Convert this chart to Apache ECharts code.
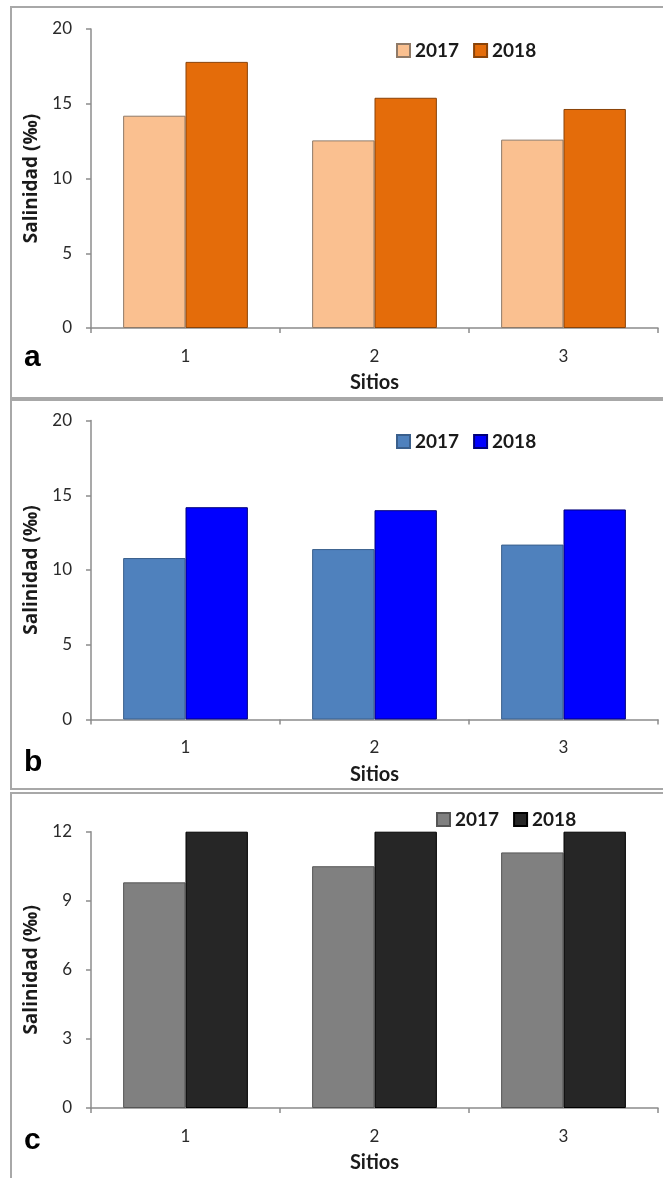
<!DOCTYPE html>
<html>
<head>
<meta charset="utf-8">
<script src="https://cdn.jsdelivr.net/npm/echarts@6/dist/echarts.min.js"></script>
<style>
  html, body { margin: 0; padding: 0; background: #fff; width: 663px; height: 1178px; overflow: hidden; }
  .frame { position: absolute; box-sizing: border-box; border: 2px solid #a8a8a8; background: #fff; }
  .chart { position: absolute; left: 0; width: 663px; }
</style>
</head>
<body>
<div class="frame" style="left:10px; top:6px; width:700px; height:393px;"></div>
<div class="frame" style="left:10px; top:399px; width:700px; height:391px;"></div>
<div class="frame" style="left:10px; top:792px; width:700px; height:420px;"></div>
<div id="ca" class="chart" style="top:0px; height:398px;"></div>
<div id="cb" class="chart" style="top:398px; height:392px;"></div>
<div id="cc" class="chart" style="top:790px; height:388px;"></div>
<script>
// ---- data ----
const sites = ['1', '2', '3'];
const years = ['2017', '2018'];
const panelA2017 = [14.2, 12.55, 12.6];
const panelA2018 = [17.8, 15.4, 14.65];
const panelB2017 = [10.8, 11.4, 11.7];
const panelB2018 = [14.2, 14.0, 14.05];
const panelC2017 = [9.8, 10.5, 11.1];
const panelC2018 = [12.0, 12.0, 12.0];
const yTicksAB = { min: 0, max: 20, interval: 5 };
const yTicksC = { min: 0, max: 12, interval: 3 };
const xName = 'Sitios';
const yName = 'Salinidad (‰)';

const FONT = 'Lato';

function makeOption(cfg) {
  return {
    animation: false,
    textStyle: { fontFamily: FONT },
    legend: {
      data: years,
      left: cfg.legendLeft,
      top: cfg.legendTop,
      itemWidth: 13,
      itemHeight: 13,
      itemGap: 14,
      icon: 'rect',
      selectedMode: false,
      textStyle: { fontFamily: FONT, fontSize: 19, fontWeight: 'bold', color: '#1a1a1a' }
    },
    grid: { left: 91, top: cfg.gridTop, width: 567, height: cfg.gridHeight },
    xAxis: {
      type: 'category',
      data: sites,
      boundaryGap: true,
      name: xName,
      nameLocation: 'middle',
      nameGap: 45,
      nameTextStyle: { fontFamily: FONT, fontSize: 20, fontWeight: 'bold', color: '#1a1a1a' },
      axisLine: { lineStyle: { color: '#8c8c8c', width: 1.5 } },
      axisTick: { show: true, length: 5, lineStyle: { color: '#8c8c8c', width: 1.5 } },
      axisLabel: { margin: 20, fontFamily: FONT, fontSize: 17, color: '#2a2a2a' }
    },
    yAxis: {
      type: 'value',
      min: cfg.ticks.min,
      max: cfg.ticks.max,
      interval: cfg.ticks.interval,
      name: yName,
      nameLocation: 'middle',
      nameGap: 48,
      nameRotate: 90,
      nameTextStyle: { fontFamily: 'Open Sans', fontSize: 19, fontWeight: 'bold', color: '#1a1a1a' },
      splitLine: { show: false },
      axisLine: { show: true, lineStyle: { color: '#8c8c8c', width: 1.5 } },
      axisTick: { show: true, length: 5, lineStyle: { color: '#8c8c8c', width: 1.5 } },
      axisLabel: { margin: 19, fontFamily: FONT, fontSize: 17, color: '#2a2a2a' }
    },
    series: [
      {
        name: years[0], type: 'bar', data: cfg.d2017,
        barGap: '0%', barCategoryGap: '34%',
        itemStyle: { color: cfg.c2017, borderColor: cfg.b2017, borderWidth: 1 }
      },
      {
        name: years[1], type: 'bar', data: cfg.d2018,
        barGap: '0%', barCategoryGap: '34%',
        itemStyle: { color: cfg.c2018, borderColor: cfg.b2018, borderWidth: 1 }
      }
    ],
    graphic: [
      {
        type: 'text', left: 24, top: cfg.letterTop, z: 10,
        style: { text: cfg.letter, fontFamily: 'Liberation Sans', fontSize: 30, fontWeight: 'bold', fill: '#000' }
      }
    ]
  };
}

echarts.init(document.getElementById('ca'), null, { renderer: 'canvas' }).setOption(makeOption({
  legendLeft: 391, legendTop: 36, gridTop: 29, gridHeight: 300, ticks: yTicksAB,
  d2017: panelA2017, d2018: panelA2018,
  c2017: '#FAC090', b2017: '#8f7a68', c2018: '#E46C0A', b2018: '#8a4308',
  letter: 'a', letterTop: 343
}));
echarts.init(document.getElementById('cb'), null, { renderer: 'canvas' }).setOption(makeOption({
  legendLeft: 391, legendTop: 29, gridTop: 22.5, gridHeight: 299, ticks: yTicksAB,
  d2017: panelB2017, d2018: panelB2018,
  c2017: '#4F81BD', b2017: '#3a5f8c', c2018: '#0000FF', b2018: '#00007a',
  letter: 'b', letterTop: 350
}));
echarts.init(document.getElementById('cc'), null, { renderer: 'canvas' }).setOption(makeOption({
  legendLeft: 431, legendTop: 15, gridTop: 41.7, gridHeight: 280, ticks: yTicksC,
  d2017: panelC2017, d2018: panelC2018,
  c2017: '#808080', b2017: '#555555', c2018: '#262626', b2018: '#000000',
  letter: 'c', letterTop: 336
}));
</script>
</body>
</html>
